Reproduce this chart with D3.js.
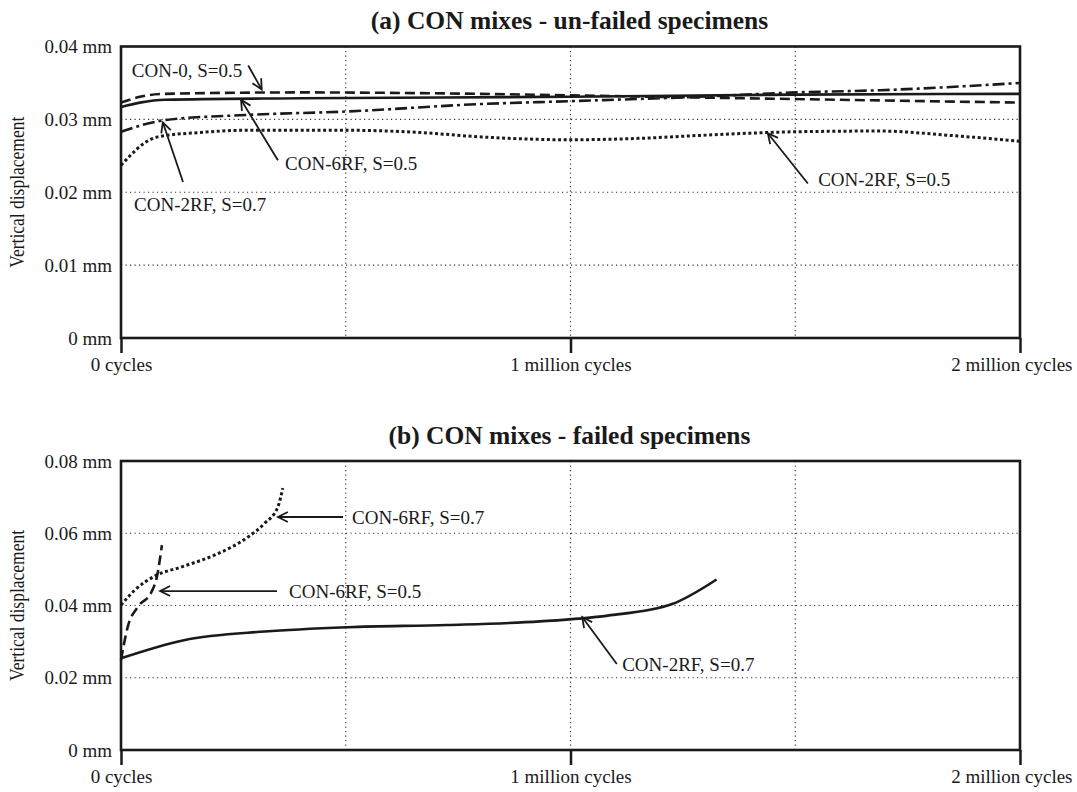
<!DOCTYPE html>
<html>
<head>
<meta charset="utf-8">
<script src="https://cdn.jsdelivr.net/npm/d3@7"></script>
<style>
  body { margin: 0; background: #fff; }
  text { font-family: "Liberation Serif", "Times New Roman", serif; fill: #1a1a1a; }
</style>
</head>
<body>
<div id="chart"></div>
<script>
// x ticks shared by both panels
var xTicks = [0, 1e6, 2e6];
var xTickLabels = ["0 cycles", "1 million cycles", "2 million cycles"];
var xGrid = [5e5, 1e6, 1.5e6];

var yTicksA = [0, 0.01, 0.02, 0.03, 0.04];
var yTicksB = [0, 0.02, 0.04, 0.06, 0.08];

// (a) un-failed specimens  [cycles, mm]
var con0_s05 = [[0,0.0323],[42000,0.0331],[98000,0.0335],[398000,0.0337],[799000,0.0335],[1000000,0.0333],[1288000,0.0330],[1689000,0.0326],[2000000,0.0323]];
var con6rf_s05 = [[0,0.0317],[42000,0.0323],[98000,0.0327],[398000,0.0329],[1000000,0.0331],[1500000,0.0334],[2000000,0.0335]];
var con2rf_s07 = [[0,0.0283],[98000,0.0299],[276000,0.0306],[509000,0.0311],[799000,0.0321],[1000000,0.0325],[1288000,0.0331],[1500000,0.0337],[1689000,0.0340],[2000000,0.0350]];
var con2rf_s05 = [[0,0.0237],[20000,0.0250],[53000,0.0268],[82000,0.0276],[176000,0.0282],[276000,0.0285],[509000,0.0285],[665000,0.0282],[799000,0.0276],[1000000,0.0272],[1155000,0.0274],[1288000,0.0278],[1500000,0.0283],[1689000,0.0284],[1844000,0.0278],[2000000,0.0270]];

// (b) failed specimens
var f_con6rf_s07 = [[0,0.0401],[31000,0.0443],[76000,0.0482],[135000,0.0507],[209000,0.0540],[283000,0.0590],[320000,0.0628],[349000,0.0673],[360000,0.0725]];
var f_con6rf_s05 = [[0,0.0249],[15000,0.0341],[38000,0.0397],[68000,0.0438],[80000,0.0480],[91000,0.0567]];
var f_con2rf_s07 = [[0,0.0254],[140000,0.0304],[320000,0.0328],[505000,0.0340],[726000,0.0346],[932000,0.0356],[1083000,0.0372],[1226000,0.0404],[1325000,0.0472]];

var W = 1077, H = 792;
var left = 121, plotW = 899;

var svg = d3.select("#chart").append("svg")
    .attr("width", W)
    .attr("height", H);

svg.append("defs").append("marker")
    .attr("id", "head")
    .attr("markerUnits", "userSpaceOnUse")
    .attr("viewBox", "-12 -7 14 14")
    .attr("markerWidth", 14)
    .attr("markerHeight", 14)
    .attr("refX", 0)
    .attr("refY", 0)
    .attr("orient", "auto")
    .append("path")
    .attr("d", "M-10,-5L0,0L-10,5")
    .attr("fill", "none")
    .attr("stroke", "#1a1a1a")
    .attr("stroke-width", 1.8);

var styles = {
    solid: null,
    dashed: "10,5",
    dashdot: "12,4,3,4",
    dotted: "3,2.6"
};

function panel(cfg) {
    var top = cfg.top, h = cfg.height;
    var g = svg.append("g").attr("transform", `translate(${left},${top})`);

    var x = d3.scaleLinear().domain([0, 2e6]).range([0, plotW]);
    var y = d3.scaleLinear().domain([0, cfg.ymax]).range([h, 0]);

    // title
    svg.append("text")
        .attr("x", left + plotW / 2 - 1)
        .attr("y", top - 17.5)
        .attr("text-anchor", "middle")
        .attr("font-size", "25.5px")
        .attr("font-weight", "bold")
        .text(cfg.title);

    // y label (slightly widened like the source scan)
    svg.append("text")
        .attr("transform", `translate(24,${top + h / 2}) rotate(-90) scale(1,1.2)`)
        .attr("text-anchor", "middle")
        .attr("font-size", "17.5px")
        .text("Vertical displacement");

    // grid
    g.selectAll(".hg")
        .data(cfg.yticks.filter(d => d > 0 && d < cfg.ymax))
        .enter().append("line")
        .attr("x1", 0).attr("x2", plotW)
        .attr("y1", d => y(d)).attr("y2", d => y(d))
        .attr("stroke", "#333").attr("stroke-width", 1.1)
        .attr("stroke-dasharray", "1.2,3.3");
    g.selectAll(".vg")
        .data(xGrid)
        .enter().append("line")
        .attr("x1", d => x(d)).attr("x2", d => x(d))
        .attr("y1", 0).attr("y2", h)
        .attr("stroke", "#333").attr("stroke-width", 1.1)
        .attr("stroke-dasharray", "1.2,3.3");

    // y axis labels
    var ya = g.append("g")
        .call(d3.axisLeft(y).tickValues(cfg.yticks).tickSize(0).tickPadding(9)
            .tickFormat(d => d3.format("~g")(d) + " mm"));
    ya.select(".domain").remove();
    ya.selectAll("text").attr("font-size", "19px").attr("font-family", null).attr("fill", "#1a1a1a");

    // x axis
    var xa = g.append("g")
        .attr("transform", `translate(0,${h})`)
        .call(d3.axisBottom(x).tickValues(xTicks).tickSize(15).tickPadding(5)
            .tickFormat((d, i) => xTickLabels[i]));
    xa.select(".domain").remove();
    xa.selectAll("line").attr("stroke", "#1a1a1a").attr("stroke-width", 2.5);
    xa.selectAll("text").attr("font-size", "19px").attr("font-family", null).attr("fill", "#1a1a1a");
    xa.selectAll(".tick:last-of-type text").attr("text-anchor", "end").attr("x", 52);

    // frame
    g.append("rect")
        .attr("x", 0).attr("y", 0)
        .attr("width", plotW).attr("height", h)
        .attr("fill", "none")
        .attr("stroke", "#1a1a1a")
        .attr("stroke-width", 2.6);

    var line = d3.line()
        .x(d => x(d[0]))
        .y(d => y(d[1]))
        .curve(d3.curveMonotoneX);

    cfg.series.forEach(function(s) {
        g.append("path")
            .datum(s.data)
            .attr("d", line)
            .attr("fill", "none")
            .attr("stroke", "#1a1a1a")
            .attr("stroke-width", s.style == "dotted" ? 3 : 2.6)
            .attr("stroke-dasharray", styles[s.style]);
    });

    cfg.notes.forEach(function(n) {
        g.append("line")
            .attr("x1", x(n.from[0])).attr("y1", y(n.from[1]))
            .attr("x2", x(n.to[0])).attr("y2", y(n.to[1]))
            .attr("stroke", "#1a1a1a")
            .attr("stroke-width", 1.8)
            .attr("marker-end", "url(#head)");
        g.append("text")
            .attr("x", x(n.at[0]))
            .attr("y", y(n.at[1]))
            .attr("dy", "0.35em")
            .attr("font-size", "19px")
            .text(n.label);
    });
}

panel({
    title: "(a) CON mixes - un-failed specimens",
    top: 46.5, height: 291.5, ymax: 0.04, yticks: yTicksA,
    series: [
        {data: con0_s05, style: "dashed"},
        {data: con6rf_s05, style: "solid"},
        {data: con2rf_s07, style: "dashdot"},
        {data: con2rf_s05, style: "dotted"}
    ],
    notes: [
        {label: "CON-0, S=0.5", at: [24000, 0.0367], from: [283000, 0.0374], to: [313000, 0.0341]},
        {label: "CON-6RF, S=0.5", at: [365000, 0.0240], from: [349000, 0.0244], to: [267000, 0.0327]},
        {label: "CON-2RF, S=0.7", at: [29000, 0.0183], from: [138000, 0.0214], to: [93000, 0.0296]},
        {label: "CON-2RF, S=0.5", at: [1551000, 0.0218], from: [1528000, 0.0212], to: [1439000, 0.0281]}
    ]
});

panel({
    title: "(b) CON mixes - failed specimens",
    top: 461, height: 289, ymax: 0.08, yticks: yTicksB,
    series: [
        {data: f_con6rf_s07, style: "dotted"},
        {data: f_con6rf_s05, style: "dashed"},
        {data: f_con2rf_s07, style: "solid"}
    ],
    notes: [
        {label: "CON-6RF, S=0.7", at: [514000, 0.0645], from: [494000, 0.0645], to: [349000, 0.0645]},
        {label: "CON-6RF, S=0.5", at: [374000, 0.0440], from: [347000, 0.0440], to: [87000, 0.0440]},
        {label: "CON-2RF, S=0.7", at: [1115000, 0.0238], from: [1103000, 0.0238], to: [1026000, 0.0368]}
    ]
});
</script>
</body>
</html>
